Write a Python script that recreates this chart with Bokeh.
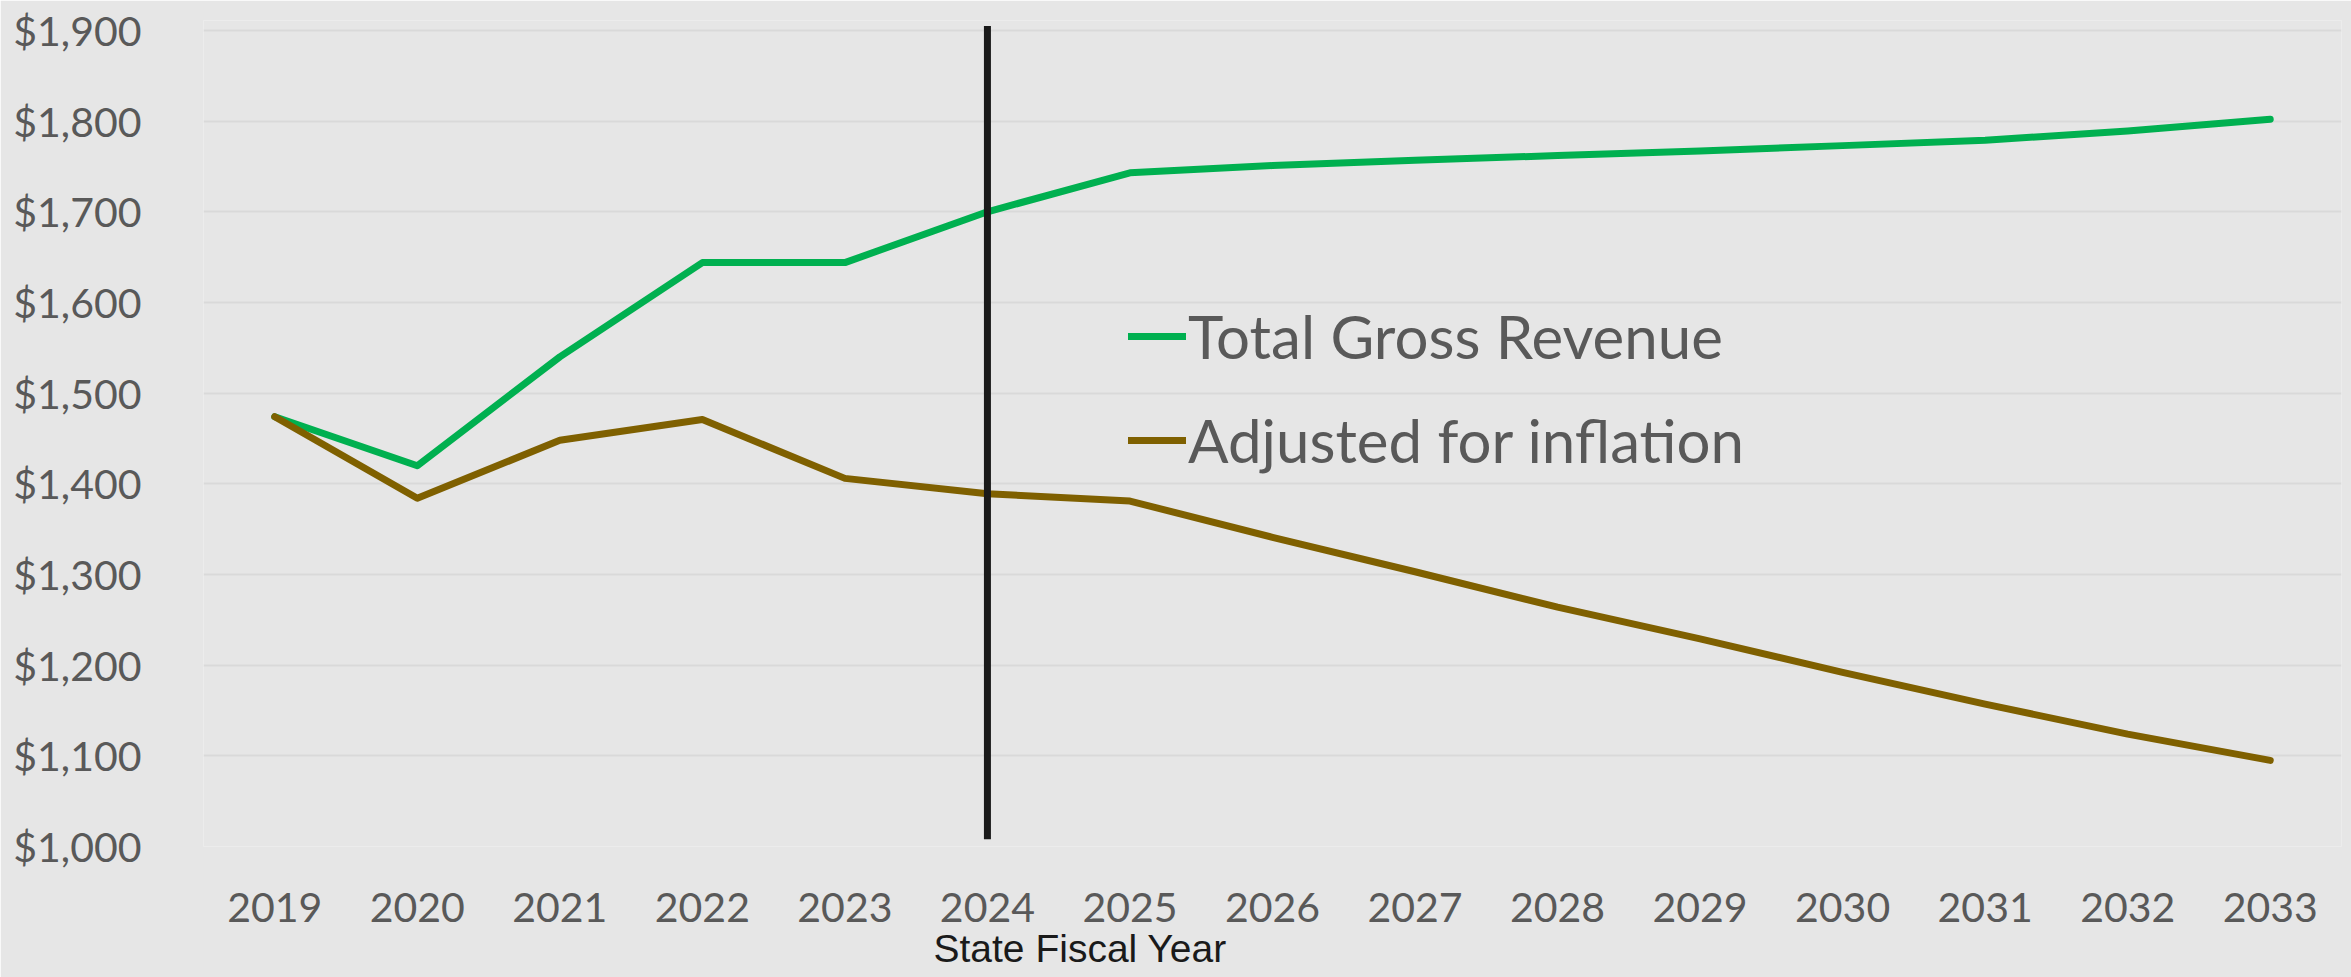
from bokeh.plotting import figure
from bokeh.models import (FixedTicker, NumeralTickFormatter, Legend, LegendItem,
                          Range1d, FactorRange, Title)
from bokeh.embed import file_html
from bokeh.resources import INLINE

# ---- data ----
years = [str(y) for y in range(2019, 2034)]
total_gross_revenue = [1474, 1420, 1540, 1644, 1644, 1700, 1743, 1751, 1757,
                       1762, 1767, 1773, 1779, 1789, 1802]
adjusted_for_inflation = [1474, 1384, 1448, 1471, 1406, 1389, 1381, 1341, 1303,
                          1264, 1229, 1192, 1157, 1124, 1095]
y_ticks = [1000, 1100, 1200, 1300, 1400, 1500, 1600, 1700, 1800, 1900]
series_names = ["Total Gross Revenue", "Adjusted for inflation"]
divider_year = ["2024"]
divider_bottom = [1008]
divider_top = [1905]
x_title = "State Fiscal Year"

BG = "#E6E6E6"
GRID = "#D9D9D9"
TXT = "#595959"
FONT = "Lato"

p = figure(width=2351, height=977,
           x_range=FactorRange(factors=years), y_range=Range1d(1000, 1911),
           output_backend="svg", toolbar_location=None,
           min_border_left=203, min_border_right=10,
           min_border_top=20, min_border_bottom=131,
           background_fill_color=BG, border_fill_color=BG,
           outline_line_color=None)

# axes
p.yaxis.ticker = FixedTicker(ticks=y_ticks)
p.yaxis.formatter = NumeralTickFormatter(format="$0,0")
for ax in (p.xaxis[0], p.yaxis[0]):
    ax.axis_line_color = None
    ax.major_tick_line_color = None
    ax.minor_tick_line_color = None
    ax.major_label_text_font = FONT
    ax.major_label_text_font_size = "41px"
    ax.major_label_text_color = TXT
p.yaxis.major_label_standoff = 56
p.xaxis.major_label_standoff = 40

p.xgrid.grid_line_color = None
p.ygrid.ticker = FixedTicker(ticks=y_ticks)
p.ygrid.grid_line_color = GRID
p.ygrid.grid_line_width = 2

r1 = p.line(years, total_gross_revenue, line_color="#00B050", line_width=7,
            line_join="round", line_cap="round")
r2 = p.line(years, adjusted_for_inflation, line_color="#7F6000", line_width=7,
            line_join="round", line_cap="round")

p.segment(x0=divider_year, y0=divider_bottom, x1=divider_year, y1=divider_top,
          line_color="#1A1A1A", line_width=7, line_cap="butt")

legend = Legend(items=[LegendItem(label=series_names[0], renderers=[r1]),
                       LegendItem(label=series_names[1], renderers=[r2])],
                location=(925, 370), orientation="vertical",
                label_text_font=FONT, label_text_font_size="60px",
                label_text_color=TXT, glyph_width=58, glyph_height=40,
                label_standoff=2, spacing=32, padding=0, margin=0,
                border_line_color=None, background_fill_alpha=0,
                label_text_baseline="middle")
p.add_layout(legend)

# x-axis title, placed left-of-centre as in the source slide
p.add_layout(Title(text=x_title, align="left", offset=730,
                   text_font="Liberation Sans", text_font_size="39px",
                   text_font_style="normal", text_color="#1A1A1A",
                   standoff=0), "below")

open("out.html", "w").write(file_html(p, INLINE))
